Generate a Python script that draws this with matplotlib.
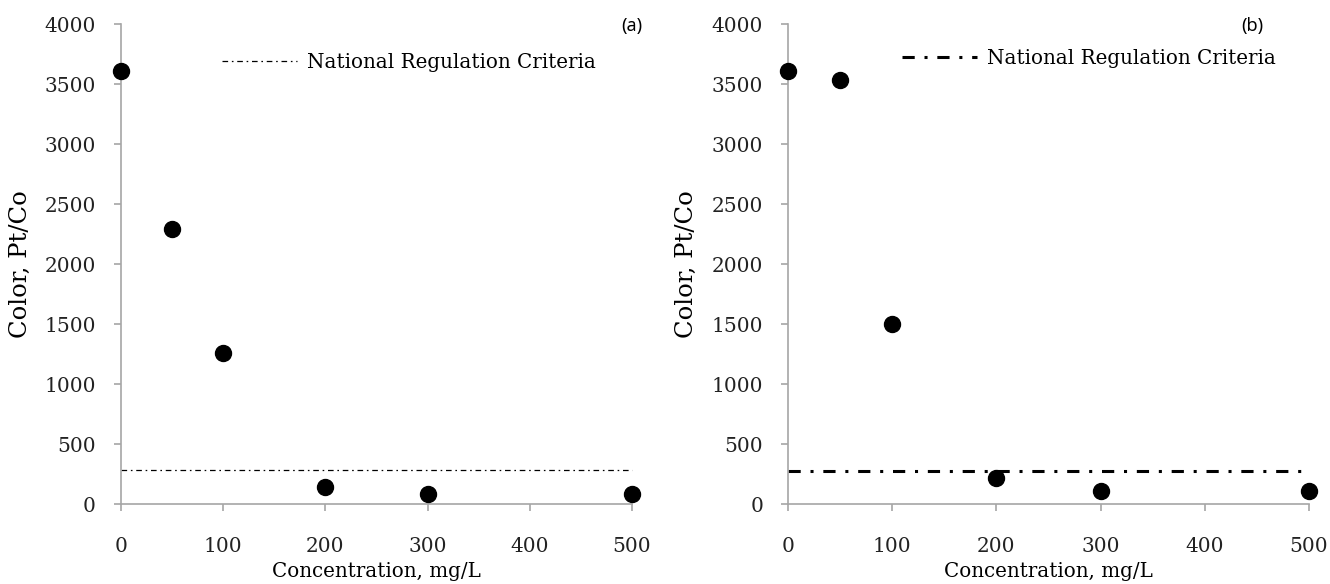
import matplotlib
matplotlib.use("Agg")
import matplotlib.pyplot as plt

# Data
conc = [0, 50, 100, 200, 300, 500]
color_a = [3610, 2290, 1260, 138, 83, 83]
color_b = [3606, 3536, 1500, 217, 105, 105]
criteria_x = [0, 500]
criteria_a = [280, 280]
criteria_b = [275, 275]
xticks = [0, 100, 200, 300, 400, 500]
yticks = [0, 500, 1000, 1500, 2000, 2500, 3000, 3500, 4000]
panel_labels = ["(a)", "(b)"]
legend_label = "National Regulation Criteria"

W, H = 1330, 584
fig = plt.figure(figsize=(W / 100, H / 100), dpi=100)

SERIF = "DejaVu Serif"
GRAY = "#a6a6a6"

def px(x0, x1, ytop, ybot):
    return [x0 / W, 1 - ybot / H, (x1 - x0) / W, (ybot - ytop) / H]

axes_specs = [
    dict(rect=px(121, 632, 24, 504), y=color_a, crit=criteria_a,
         ls=(0, (4.5, 3.0, 1.3, 3.0)), lw=0.9,
         leg=(222, 62), tag_x=642, ylab=-0.175),
    dict(rect=px(788, 1309, 24, 504), y=color_b, crit=criteria_b,
         ls=(0, (4.0, 3.2, 1.0, 3.2)), lw=2.2,
         leg=(902, 58), tag_x=1263, ylab=-0.172),
]

for i, spec in enumerate(axes_specs):
    ax = fig.add_axes(spec["rect"])
    ax.plot(criteria_x, spec["crit"], color="black", lw=spec["lw"],
            linestyle=spec["ls"], label=legend_label, clip_on=False)
    ax.plot(conc, spec["y"], linestyle="none", marker="o", ms=11.5,
            color="black", clip_on=False, zorder=5)
    ax.set_xlim(0, 500)
    ax.set_ylim(0, 4000)
    ax.set_xticks(xticks)
    ax.set_yticks(yticks)
    for s in ["top", "right"]:
        ax.spines[s].set_visible(False)
    for s in ["left", "bottom"]:
        ax.spines[s].set_color(GRAY)
        ax.spines[s].set_linewidth(1.2)
    ax.tick_params(axis="both", direction="out", length=5, width=1.2,
                   color=GRAY, labelsize=14.5, labelcolor="#222222")
    ax.tick_params(axis="x", pad=19)
    ax.tick_params(axis="y", pad=13)
    for lab in ax.get_xticklabels() + ax.get_yticklabels():
        lab.set_family(SERIF)
    ax.set_xlabel("Concentration, mg/L", family=SERIF, fontsize=14.3)
    ax.xaxis.set_label_coords(0.5, -0.121)
    ax.set_ylabel("Color, Pt/Co", family=SERIF, fontsize=17.5)
    ax.yaxis.set_label_coords(spec["ylab"], 0.5)
    lx, ly = spec["leg"]
    ax.legend(loc="center left",
              bbox_to_anchor=(lx / W, 1 - ly / H),
              bbox_transform=fig.transFigure,
              frameon=False, handlelength=3.8, handletextpad=0.5,
              borderaxespad=0, borderpad=0,
              prop={"family": SERIF, "size": 14.3})
    fig.text(spec["tag_x"] / W, 1 - 26 / H, panel_labels[i],
             ha="right", va="center", family="Noto Sans", fontsize=13)

fig.savefig("out.png", dpi=100)
